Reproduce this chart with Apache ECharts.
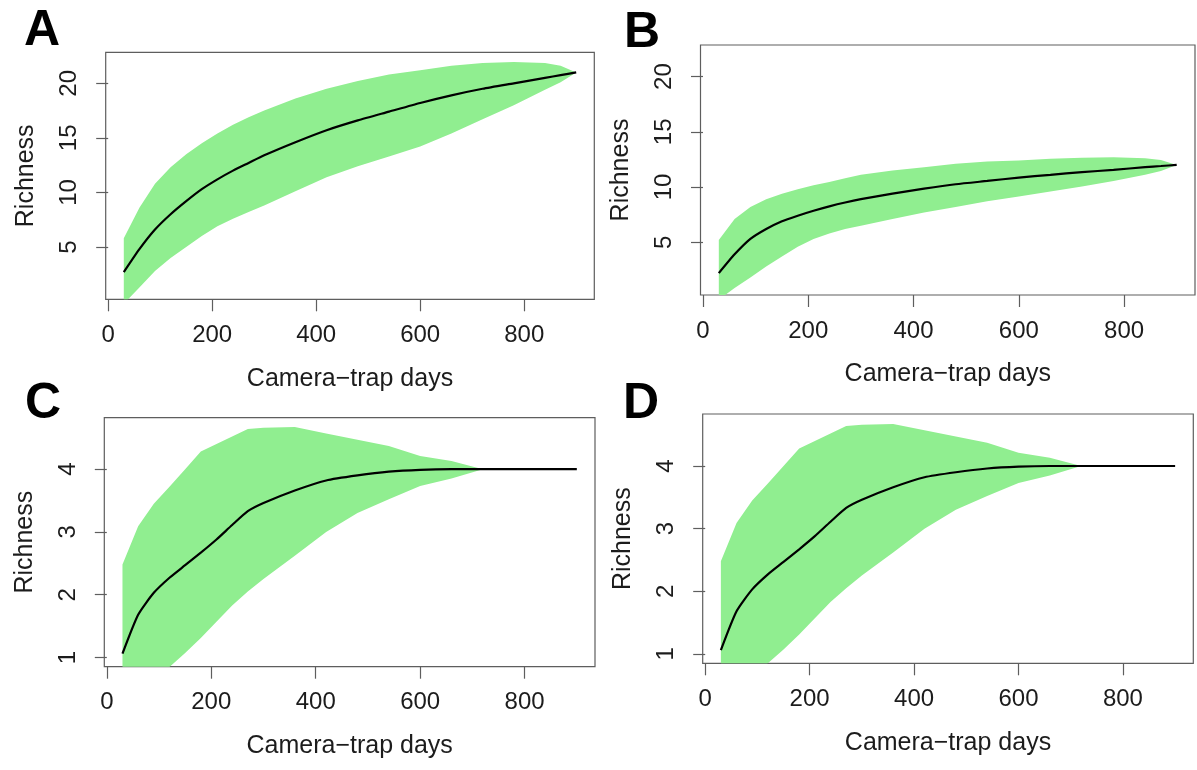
<!DOCTYPE html>
<html><head><meta charset="utf-8">
<script src="https://cdn.jsdelivr.net/npm/echarts@6/dist/echarts.min.js"></script>
<style>html,body{margin:0;padding:0;background:#fff}#c{width:1197px;height:770px}</style>
</head><body><div id="c"></div>
<script>
// ---- data ----
const panelLabels = ['A', 'B', 'C', 'D'];
const xTickValues = [0, 200, 400, 600, 800];
const yTicksAB = [5, 10, 15, 20];
const yTicksCD = [1, 2, 3, 4];
const xTitle = 'Camera\u2212trap days';
const yTitle = 'Richness';

const daysAB = [30, 60, 90, 120, 150, 180, 210, 240, 270, 300, 360, 420, 480, 540, 600, 660, 720, 780, 840, 870, 900];
const meanA  = [2.7, 4.8, 6.6, 8.0, 9.2, 10.3, 11.2, 12.0, 12.7, 13.4, 14.6, 15.7, 16.6, 17.4, 18.2, 18.9, 19.5, 20.0, 20.5, 20.75, 21.0];
const upperA = [5.8, 8.6, 10.8, 12.3, 13.5, 14.5, 15.4, 16.2, 16.9, 17.5, 18.6, 19.5, 20.2, 20.8, 21.2, 21.6, 21.85, 21.95, 21.85, 21.6, 21.0];
const lowerA = [-0.2, 1.3, 2.8, 4.0, 5.0, 6.0, 6.9, 7.6, 8.2, 8.8, 10.1, 11.4, 12.4, 13.3, 14.2, 15.4, 16.7, 18.0, 19.4, 20.1, 21.0];

const meanB  = [2.2, 3.9, 5.3, 6.2, 6.9, 7.4, 7.85, 8.25, 8.6, 8.9, 9.4, 9.85, 10.25, 10.55, 10.85, 11.1, 11.35, 11.55, 11.8, 11.9, 12.0];
const upperB = [5.2, 7.1, 8.2, 8.9, 9.4, 9.8, 10.15, 10.45, 10.8, 11.1, 11.5, 11.8, 12.1, 12.3, 12.4, 12.55, 12.65, 12.7, 12.6, 12.45, 12.0];
const lowerB = [-0.2, 0.85, 1.8, 2.8, 3.7, 4.6, 5.3, 5.8, 6.2, 6.5, 7.1, 7.7, 8.2, 8.7, 9.15, 9.6, 10.05, 10.55, 11.1, 11.45, 12.0];

const daysCD = [30, 60, 90, 120, 150, 180, 210, 240, 270, 300, 360, 420, 480, 540, 600, 660, 720, 780, 840, 900];
const meanC  = [1.06, 1.68, 2.03, 2.27, 2.47, 2.67, 2.88, 3.11, 3.33, 3.46, 3.66, 3.82, 3.9, 3.96, 3.99, 4.0, 4.0, 4.0, 4.0, 4.0];
const upperC = [2.48, 3.09, 3.45, 3.72, 4.0, 4.28, 4.4, 4.52, 4.64, 4.66, 4.67, 4.57, 4.47, 4.37, 4.21, 4.13, 4.0, 4.0, 4.0, 4.0];
const lowerC = [0.4, 0.55, 0.7, 0.85, 1.07, 1.31, 1.57, 1.83, 2.05, 2.25, 2.62, 3.0, 3.3, 3.52, 3.73, 3.85, 4.0, 4.0, 4.0, 4.0];

const meanD  = [1.06, 1.68, 2.03, 2.27, 2.47, 2.67, 2.88, 3.11, 3.33, 3.46, 3.66, 3.82, 3.9, 3.96, 3.99, 4.0, 4.0, 4.0, 4.0, 4.0];
const upperD = [2.48, 3.09, 3.45, 3.72, 4.0, 4.28, 4.4, 4.52, 4.64, 4.66, 4.67, 4.57, 4.47, 4.37, 4.21, 4.13, 4.0, 4.0, 4.0, 4.0];
const lowerD = [0.4, 0.55, 0.7, 0.85, 1.07, 1.31, 1.57, 1.83, 2.05, 2.25, 2.62, 3.0, 3.3, 3.52, 3.73, 3.85, 4.0, 4.0, 4.0, 4.0];

// ---- layout / style ----
const FONT = '"Liberation Sans", Arial, Helvetica, sans-serif';
const TXT = '#1c1c1c';
const FRAME = '#5e5e5e';
const FILL = '#90ee90';

const panels = [
  { days: daysAB, mean: meanA, upper: upperA, lower: lowerA, yTicks: yTicksAB, ymin: 0.21, ymax: 22.84,
    grid: { left: 105.7, top: 52.3, width: 488.6, height: 247 }, lab: [24, 11] },
  { days: daysAB, mean: meanB, upper: upperB, lower: lowerB, yTicks: yTicksAB, ymin: 0.22, ymax: 22.86,
    grid: { left: 700.5, top: 45, width: 494.5, height: 250 }, lab: [624, 13] },
  { days: daysCD, mean: meanC, upper: upperC, lower: lowerC, yTicks: yTicksCD, ymin: 0.853, ymax: 4.82,
    grid: { left: 104.3, top: 417.7, width: 490.7, height: 249 }, lab: [25, 384] },
  { days: daysCD, mean: meanD, upper: upperD, lower: lowerD, yTicks: yTicksCD, ymin: 0.85, ymax: 4.83,
    grid: { left: 702.7, top: 414, width: 490.6, height: 249.3 }, lab: [623, 384] }
];

const grids = [], xAxes = [], yAxes = [], series = [], graphics = [];
panels.forEach((p, i) => {
  grids.push(Object.assign({ show: true, borderColor: FRAME, borderWidth: 1.2, backgroundColor: 'transparent',
    containLabel: false, outerBoundsMode: 'none' }, p.grid));
  xAxes.push({
    type: 'value', gridIndex: i, min: -4.8, max: 934.8,
    name: xTitle, nameLocation: 'middle', nameGap: 67, nameMoveOverlap: false,
    nameTextStyle: { fontFamily: FONT, fontSize: 25, color: TXT },
    axisLine: { show: false },
    axisTick: { show: true, length: 12, lineStyle: { color: FRAME, width: 1.2 }, customValues: xTickValues },
    axisLabel: { show: true, margin: 24, fontFamily: FONT, fontSize: 24, color: TXT, customValues: xTickValues },
    splitLine: { show: false }
  });
  yAxes.push({
    type: 'value', gridIndex: i, min: p.ymin, max: p.ymax,
    name: yTitle, nameLocation: 'middle', nameGap: 67, nameMoveOverlap: false,
    nameTextStyle: { fontFamily: FONT, fontSize: 25, color: TXT },
    axisLine: { show: false },
    axisTick: { show: true, length: 12, lineStyle: { color: FRAME, width: 1.2 }, customValues: p.yTicks },
    axisLabel: { show: true, rotate: 90, margin: 24, fontFamily: FONT, fontSize: 24, color: TXT, customValues: p.yTicks },
    splitLine: { show: false }
  });
  // confidence band: one polygon (upper edge forward, lower edge backward) placed via the axes
  series.push({
    type: 'custom', xAxisIndex: i, yAxisIndex: i, silent: true, clip: true, z: 1,
    data: [[0]],
    renderItem: function (params, api) {
      const pts = [];
      for (let k = 0; k < p.days.length; k++) pts.push(api.coord([p.days[k], p.upper[k]]));
      for (let k = p.days.length - 1; k >= 0; k--) pts.push(api.coord([p.days[k], p.lower[k]]));
      return { type: 'polygon', shape: { points: pts }, style: { fill: FILL, stroke: null } };
    }
  });
  series.push({
    type: 'line', xAxisIndex: i, yAxisIndex: i, symbol: 'none', silent: true, smooth: 0.2,
    lineStyle: { color: '#000', width: 2.2 }, clip: true, z: 5,
    data: p.days.map((d, k) => [d, p.mean[k]])
  });
  graphics.push({
    type: 'text', left: p.lab[0], top: p.lab[1] - 5,
    style: { text: panelLabels[i], fontFamily: FONT, fontWeight: 'bold', fontSize: 50, fill: '#000' }
  });
});

const chart = echarts.init(document.getElementById('c'), null, { renderer: 'canvas' });
chart.setOption({
  animation: false,
  backgroundColor: '#ffffff',
  grid: grids, xAxis: xAxes, yAxis: yAxes, series: series, graphic: graphics
});
</script></body></html>
